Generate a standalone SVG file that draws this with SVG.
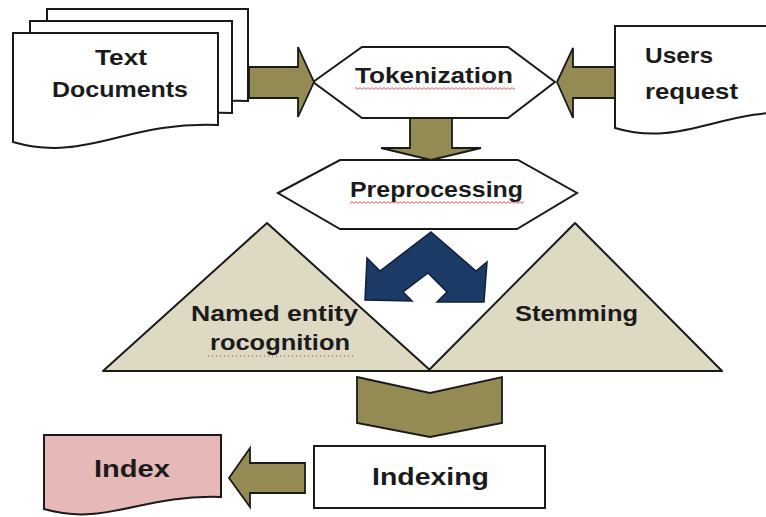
<svg xmlns="http://www.w3.org/2000/svg" width="766" height="517" viewBox="0 0 766 517">
  <style>
    .doc { fill: #ffffff; stroke: #1a1a1a; stroke-width: 2; stroke-linejoin: miter; }
    .hex { fill: #ffffff; stroke: #1a1a1a; stroke-width: 2; }
    .tri { fill: #DDD9C3; stroke: #1a1a1a; stroke-width: 2; stroke-linejoin: round; }
    .olive { fill: #948A54; stroke: #1a1a1a; stroke-width: 1.8; stroke-linejoin: miter; }
    .blue { fill: #1C3A66; stroke: #0f1f3a; stroke-width: 1.5; }
    .lbl { font-family: "Liberation Sans", Arial, sans-serif; font-weight: bold; font-size: 22px; fill: #1b1b1b; }
    .big { font-size: 23.5px; }
    .wav { fill: url(#wave); }
  </style>
  <defs>
    <pattern id="wave" width="4" height="3" patternUnits="userSpaceOnUse">
      <path d="M0,0.6 L2,2.4 L4,0.6" fill="none" stroke="#d03030" stroke-width="0.8"/>
    </pattern>
  </defs>
  <rect width="766" height="517" fill="#ffffff"/>

  <g id="text-documents">
    <path class="doc" d="M47,118 V9 H248 V101 C158,97 117,139 47,118 Z"/>
    <path class="doc" d="M30,130 V21 H232 V113 C143,109 102,151 30,130 Z"/>
    <path class="doc" d="M13,142 V33 H218 V125 C126,121 85,163 13,142 Z"/>
    <text class="lbl" x="121" y="65" text-anchor="middle" textLength="52" lengthAdjust="spacingAndGlyphs">Text</text>
    <text class="lbl" x="120" y="97" text-anchor="middle" textLength="136" lengthAdjust="spacingAndGlyphs">Documents</text>
  </g>

  <g id="users-request">
    <path class="doc" d="M615,128 V26 H805 V112 C720,108 682,148 615,128 Z"/>
    <text class="lbl" x="645" y="63" textLength="68" lengthAdjust="spacingAndGlyphs">Users</text>
    <text class="lbl" x="645" y="99" textLength="93" lengthAdjust="spacingAndGlyphs">request</text>
  </g>

  <g id="tokenization">
    <polygon class="hex" points="313,82 362,47 508,47 555,82 508,118 362,118"/>
    <text class="lbl" x="434" y="83" text-anchor="middle" textLength="158" lengthAdjust="spacingAndGlyphs">Tokenization</text>
    <rect class="wav" x="355" y="87" width="160" height="3"/>
  </g>

  <g id="preprocessing">
    <polygon class="hex" points="278,193 340,160 518,160 577,193 517,229 340,229"/>
    <text class="lbl" x="436.5" y="197" text-anchor="middle" textLength="173" lengthAdjust="spacingAndGlyphs">Preprocessing</text>
    <rect class="wav" x="350" y="201" width="174" height="3"/>
  </g>

  <g id="named-entity-recognition">
    <polygon class="tri" points="267,223 431,371 103,371"/>
    <text class="lbl" x="274.5" y="321" text-anchor="middle" textLength="167" lengthAdjust="spacingAndGlyphs">Named entity</text>
    <text class="lbl" x="280" y="350" text-anchor="middle" textLength="140" lengthAdjust="spacingAndGlyphs">rocognition</text>
    <line x1="208" y1="356" x2="355" y2="356" stroke="#c04040" stroke-width="1" stroke-dasharray="1,3"/>
  </g>

  <g id="stemming">
    <polygon class="tri" points="575,223 722,371 428,371"/>
    <text class="lbl" x="576.5" y="321" text-anchor="middle" textLength="123" lengthAdjust="spacingAndGlyphs">Stemming</text>
  </g>

  <g id="indexing">
    <rect x="314" y="446" width="231" height="62" fill="#ffffff" stroke="#1a1a1a" stroke-width="2"/>
    <text class="lbl big" x="430.5" y="485" text-anchor="middle" textLength="117" lengthAdjust="spacingAndGlyphs">Indexing</text>
  </g>

  <g id="index">
    <path class="doc" style="fill:#E6B9B8" d="M44,509 V435 H221 V497 C141,494 106,527 44,509 Z"/>
    <text class="lbl big" x="132" y="477" text-anchor="middle" textLength="76" lengthAdjust="spacingAndGlyphs">Index</text>
  </g>

  <g id="connectors">
    <polygon class="olive" points="249,67 298,67 298,47 314,82 298,117 298,98 249,98"/>
    <polygon class="olive" points="615,67 573,67 573,48 557,82 573,118 573,98 615,98"/>
    <polygon class="olive" points="410,118 452,118 452,148 481,148 431,160 381,148 410,148"/>
    <path class="blue" d="M431,232 L476,271 L487,262 L484,302 L437,302 L447,292 L428,273 L403,292 L412,301 L365,300 L367,258 L380,271 Z"/>
    <polygon class="olive" points="357,377 430,393 502,377 502,423 430,437 357,423"/>
    <polygon class="olive" points="305,463 250,463 250,448 229,478 250,507 250,493 305,493"/>
  </g>
</svg>
